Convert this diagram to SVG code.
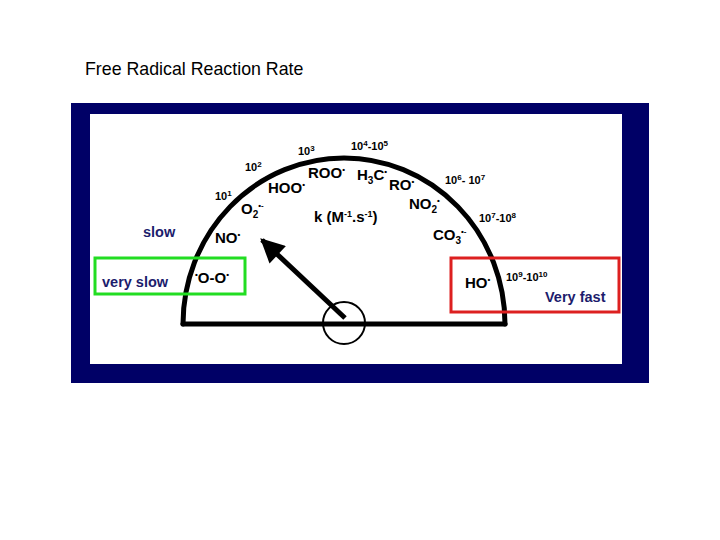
<svg xmlns="http://www.w3.org/2000/svg" width="720" height="540" viewBox="0 0 720 540">
<style>
text{font-family:"Liberation Sans",Arial,sans-serif;fill:#000}
.t{font-size:17.8px}
.sp{font-size:15px;font-weight:bold}
.num{font-size:11px;font-weight:bold}
.sup{font-size:8px}
.dot{font-size:8px}
.nv{font-size:14.5px;font-weight:bold;fill:#1c1c6c}
.ln{fill:none;stroke:#000;stroke-width:5;stroke-linecap:round;stroke-linejoin:round}
</style>
<defs>
<marker id="ah" viewBox="0 0 10 10" refX="9" refY="5" markerWidth="5.4" markerHeight="4.8" orient="auto" markerUnits="strokeWidth">
<path d="M0,0 L10,5 L0,10 z" fill="#000"/>
</marker>
</defs>
<rect width="720" height="540" fill="#fff"/>
<text class="t" x="85" y="75">Free Radical Reaction Rate</text>
<g id="frame">
<rect x="71" y="103" width="578" height="280" fill="#000066"/>
<rect x="90" y="114" width="532" height="250" fill="#fff"/>
</g>
<g id="connectors">
<path class="ln" d="M183,324 A161,166 0 0 1 505,324"/>
<path class="ln" d="M183,324 L505,324"/>
<circle cx="344" cy="323" r="21" fill="none" stroke="#000" stroke-width="2"/>
<path d="M345,318 L262,240" stroke="#000" stroke-width="5" fill="none" marker-end="url(#ah)"/>
</g>
<g id="boxes">
<rect id="verySlowBox" x="95" y="258" width="150" height="36" fill="none" stroke="#22dd22" stroke-width="3"/>
<rect id="veryFastBox" x="451" y="258" width="168" height="54" fill="none" stroke="#dd2020" stroke-width="3"/>
</g>
<g id="rates">
<text class="num" x="298" y="155">10<tspan class="sup" dy="-4">3</tspan></text>
<text class="num" x="245" y="171">10<tspan class="sup" dy="-4">2</tspan></text>
<text class="num" x="215" y="200">10<tspan class="sup" dy="-4">1</tspan></text>
<text class="num" x="351" y="150">10<tspan class="sup" dy="-4">4</tspan><tspan dy="4">-10</tspan><tspan class="sup" dy="-4">5</tspan></text>
<text class="num" x="445" y="184">10<tspan class="sup" dy="-4">6</tspan><tspan dy="4">- 10</tspan><tspan class="sup" dy="-4">7</tspan></text>
<text class="num" x="479" y="222">10<tspan class="sup" dy="-4">7</tspan><tspan dy="4">-10</tspan><tspan class="sup" dy="-4">8</tspan></text>
<text class="num" x="506" y="281">10<tspan class="sup" dy="-4">9</tspan><tspan dy="4">-10</tspan><tspan class="sup" dy="-4">10</tspan></text>
</g>
<g id="species">
<text class="sp" x="308" y="178">ROO<tspan class="dot" dy="-6">•</tspan></text>
<text class="sp" x="357" y="180">H<tspan font-size="10" dy="4">3</tspan><tspan dy="-4">C</tspan><tspan class="dot" dy="-6">•</tspan></text>
<text class="sp" x="389" y="190">RO<tspan class="dot" dy="-6">•</tspan></text>
<text class="sp" x="268" y="193">HOO<tspan class="dot" dy="-6">•</tspan></text>
<text class="sp" x="409" y="209">NO<tspan font-size="10" dy="4">2</tspan><tspan class="dot" dy="-10">•</tspan></text>
<text class="sp" x="241" y="214">O<tspan font-size="10" dy="4">2</tspan><tspan class="dot" dy="-10">•-</tspan></text>
<text class="sp" x="314" y="222">k (M<tspan font-size="9" dy="-5">-1</tspan><tspan dy="5">.s</tspan><tspan font-size="9" dy="-5">-1</tspan><tspan dy="5">)</tspan></text>
<text class="sp" x="433" y="240">CO<tspan font-size="10" dy="4">3</tspan><tspan class="dot" dy="-10">•-</tspan></text>
<text class="sp" x="215" y="243">NO<tspan class="dot" dy="-6">•</tspan></text>
<text class="sp" x="195" y="283"><tspan class="dot" dy="-6">•</tspan><tspan dy="6">O-O</tspan><tspan class="dot" dy="-6">•</tspan></text>
<text class="sp" x="465" y="288">HO<tspan class="dot" dy="-6">•</tspan></text>
</g>
<g id="speedLabels">
<text class="nv" x="143" y="237">slow</text>
<text class="nv" x="102" y="287">very slow</text>
<text class="nv" x="545" y="302">Very fast</text>
</g>
</svg>
